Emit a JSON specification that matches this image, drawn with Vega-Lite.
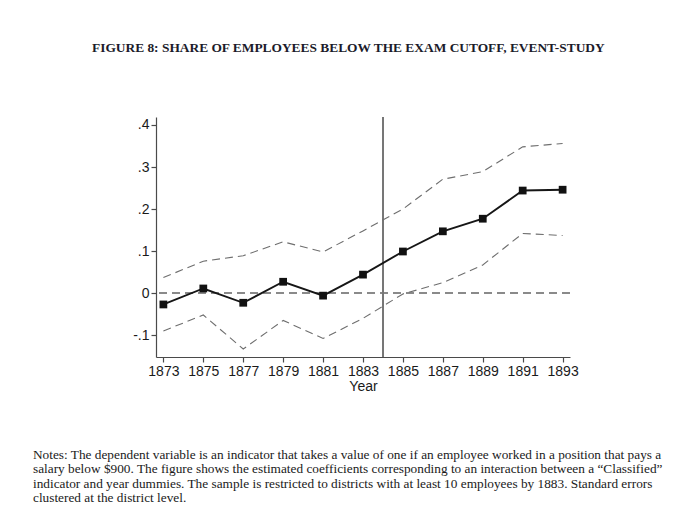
{
  "$schema": "https://vega.github.io/schema/vega-lite/v6.json",
  "background": "white",
  "padding": {"left": 33, "top": 40, "right": 5, "bottom": 5},
  "title": {
    "text": "FIGURE 8: SHARE OF EMPLOYEES BELOW THE EXAM CUTOFF, EVENT-STUDY",
    "font": "Liberation Serif",
    "fontSize": 13.4,
    "fontWeight": "bold",
    "color": "#1b1b2a",
    "anchor": "start",
    "frame": "group",
    "offset": 62,
    "dx": -64
  },
  "config": {
    "view": {"stroke": null},
    "axis": {
      "grid": false,
      "domainColor": "#4a4a4a",
      "domainWidth": 1.2,
      "tickColor": "#4a4a4a",
      "tickWidth": 1.2,
      "tickSize": 5,
      "labelColor": "#1a1a1a",
      "labelFont": "Liberation Sans",
      "labelFontSize": 14,
      "titleFont": "Liberation Sans",
      "titleFontSize": 14,
      "titleFontWeight": "normal",
      "titleColor": "#1a1a1a"
    }
  },
  "vconcat": [
    {
      "width": 414,
      "height": 240,
      "title": {
        "text": [
          "Notes: The dependent variable is an indicator that takes a value of one if an employee worked in a position that pays a",
          "salary below $900. The figure shows the estimated coefficients corresponding to an interaction between a “Classified”",
          "indicator and year dummies. The sample is restricted to districts with at least 10 employees by 1883. Standard errors",
          "clustered at the district level."
        ],
        "orient": "bottom",
        "anchor": "start",
        "frame": "group",
        "font": "Liberation Serif",
        "fontSize": 13.3,
        "fontWeight": "normal",
        "color": "#1a1a1a",
        "lineHeight": 14.4,
        "offset": 55,
        "dx": -123
      },
      "data": {
        "values": [
          {"year": 1873, "coef": -0.027, "lower": -0.090, "upper": 0.037},
          {"year": 1875, "coef": 0.011, "lower": -0.052, "upper": 0.076},
          {"year": 1877, "coef": -0.023, "lower": -0.133, "upper": 0.089},
          {"year": 1879, "coef": 0.027, "lower": -0.065, "upper": 0.122},
          {"year": 1881, "coef": -0.006, "lower": -0.108, "upper": 0.098},
          {"year": 1883, "coef": 0.044, "lower": -0.060, "upper": 0.148},
          {"year": 1885, "coef": 0.099, "lower": -0.002, "upper": 0.200},
          {"year": 1887, "coef": 0.147, "lower": 0.025, "upper": 0.271},
          {"year": 1889, "coef": 0.177, "lower": 0.067, "upper": 0.289},
          {"year": 1891, "coef": 0.244, "lower": 0.142, "upper": 0.348},
          {"year": 1893, "coef": 0.246, "lower": 0.137, "upper": 0.356}
        ]
      },
      "encoding": {
        "x": {
          "field": "year",
          "type": "quantitative",
          "scale": {"domain": [1872.63, 1893.37], "nice": false, "zero": false},
          "axis": {
            "values": [1873, 1875, 1877, 1879, 1881, 1883, 1885, 1887, 1889, 1891, 1893],
            "format": "d",
            "title": "Year",
            "labelPadding": 2,
            "titlePadding": 1,
            "labelFlush": false
          }
        }
      },
      "layer": [
        {
          "mark": {"type": "rule", "color": "#8a8a8a", "strokeWidth": 1.3, "strokeDash": [8, 5]},
          "encoding": {"y": {"datum": 0, "type": "quantitative"}, "x": null}
        },
        {
          "mark": {"type": "rule", "color": "#777777", "strokeWidth": 1.3},
          "encoding": {"x": {"datum": 1884, "type": "quantitative"}}
        },
        {
          "mark": {"type": "line", "color": "#6e6e6e", "strokeWidth": 1.1, "strokeDash": [8, 5]},
          "encoding": {"y": {"field": "upper", "type": "quantitative"}}
        },
        {
          "mark": {"type": "line", "color": "#6e6e6e", "strokeWidth": 1.1, "strokeDash": [8, 5]},
          "encoding": {"y": {"field": "lower", "type": "quantitative"}}
        },
        {
          "mark": {"type": "line", "color": "#161616", "strokeWidth": 1.9, "point": {"shape": "square", "size": 60, "filled": true, "color": "#111111", "opacity": 1}},
          "encoding": {
            "y": {
              "field": "coef",
              "type": "quantitative",
              "scale": {"domain": [-0.152, 0.419], "nice": false, "zero": false},
              "axis": {
                "values": [-0.1, 0, 0.1, 0.2, 0.3, 0.4],
                "title": null,
                "labelPadding": 2,
                "labelExpr": "datum.value == 0 ? '0' : replace(replace(format(datum.value, '.1f'), '0.', '.'), '\u2212', '-')"
              }
            }
          }
        }
      ]
    }
  ]
}
